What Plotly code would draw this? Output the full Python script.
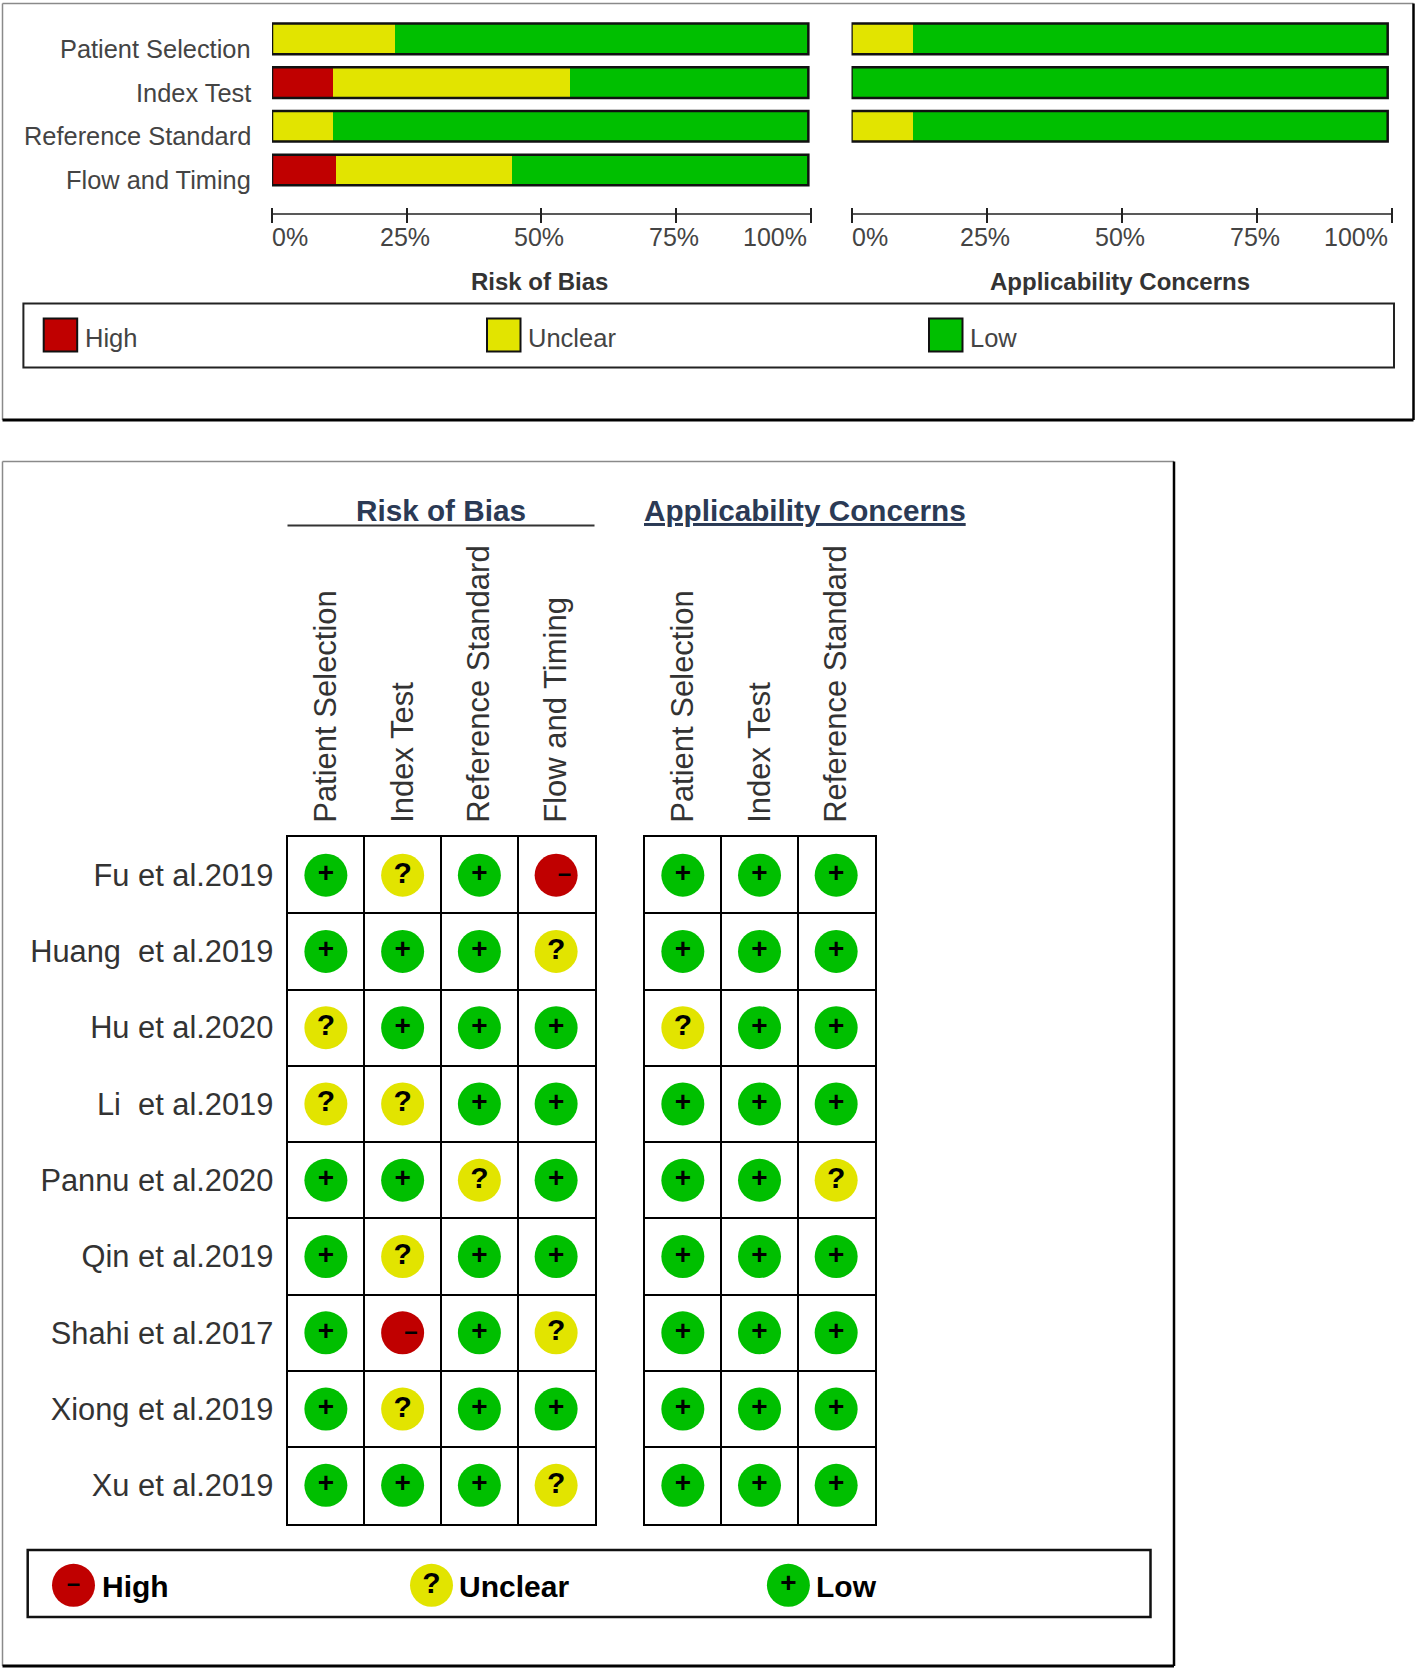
import plotly.graph_objects as go

W, H = 1418, 1670
FONT = "Liberation Sans"

RED = "#C00000"
YELLOW = "#E2E400"
GREEN = "#00BF00"

# Summary bars (percent of studies)
domains = ["Patient Selection", "Index Test", "Reference Standard", "Flow and Timing"]
bias_high = [0, 11.4, 0, 11.9]
bias_unclear = [22.8, 44, 11.4, 32.7]
bias_low = [76.8, 44.2, 88.2, 55]
appl_high = [0, 0, 0, None]
appl_unclear = [11.4, 0, 11.4, None]
appl_low = [87.8, 99.2, 87.8, None]
tick_vals = [0, 25, 50, 75, 100]
tick_text = ["0%", "25%", "50%", "75%", "100%"]

# Per-study judgements
studies = ["Fu et al.2019", "Huang  et al.2019", "Hu et al.2020", "Li  et al.2019", "Pannu et al.2020",
           "Qin et al.2019", "Shahi et al.2017", "Xiong et al.2019", "Xu et al.2019"]
bias_cols = ["Patient Selection", "Index Test", "Reference Standard", "Flow and Timing"]
appl_cols = ["Patient Selection", "Index Test", "Reference Standard"]
bias_marks = [
    ["+", "?", "+", "-"],
    ["+", "+", "+", "?"],
    ["?", "+", "+", "+"],
    ["?", "?", "+", "+"],
    ["+", "+", "?", "+"],
    ["+", "?", "+", "+"],
    ["+", "-", "+", "?"],
    ["+", "?", "+", "+"],
    ["+", "+", "+", "?"],
]
appl_marks = [
    ["+", "+", "+"],
    ["+", "+", "+"],
    ["?", "+", "+"],
    ["+", "+", "+"],
    ["+", "+", "?"],
    ["+", "+", "+"],
    ["+", "+", "+"],
    ["+", "+", "+"],
    ["+", "+", "+"],
]
levels = ["High", "Unclear", "Low"]
level_colors = [RED, YELLOW, GREEN]
level_marks = ["-", "?", "+"]
# the minus sits right of centre in the grid, so it gets leading spaces
glyphs = {"-": "\u2002\u2009\u2013", "?": "?", "+": "+"}
glyph_sizes = {"-": 24, "?": 30, "+": 28}


def px_x(v):
    return v / W


def px_y(v):
    return 1 - v / H


def paper_line(x0, y0, x1, y1, color="black", width=2):
    return dict(type="line", xref="paper", yref="paper", x0=px_x(x0), x1=px_x(x1),
                y0=px_y(y0), y1=px_y(y1), line=dict(color=color, width=width))


def paper_rect(x0, y0, x1, y1, color="black", width=2, fill=None):
    return dict(type="rect", xref="paper", yref="paper", x0=px_x(x0), x1=px_x(x1),
                y0=px_y(y0), y1=px_y(y1), line=dict(color=color, width=width),
                fillcolor=fill if fill else "rgba(0,0,0,0)", layer="above")


def label(text, x, y, size, color="#444444", bold=False, anchor="left"):
    return dict(text=text, xref="paper", yref="paper", x=px_x(x), y=px_y(y), showarrow=False,
                xanchor=anchor, yanchor="middle",
                font=dict(family=FONT, size=size, color=color, weight="bold" if bold else "normal"))


def framed_box(x0, y0, x1, y1):
    # grey top/left edge with a heavy bottom/right edge
    return [
        paper_line(x0, y0, x1, y0, "#8a8a8a", 1.5),
        paper_line(x0, y0, x0, y1, "#8a8a8a", 1.5),
        paper_line(x0, y1, x1, y1, "black", 3),
        paper_line(x1, y0, x1, y1, "black", 2.5),
    ]


fig = go.Figure()
shapes = []
annotations = []

# Top panel: stacked summary bars
panels = [
    ("x", "y", "xaxis", "yaxis", (272, 810.5), [bias_high, bias_unclear, bias_low], "Risk of Bias"),
    ("x2", "y2", "xaxis2", "yaxis2", (851.5, 1392), [appl_high, appl_unclear, appl_low], "Applicability Concerns"),
]
layout_axes = {}
for xa, ya, xkey, ykey, (left, right), series, title in panels:
    for vals, color, name in zip(series, level_colors, levels):
        fig.add_trace(go.Bar(x=vals, y=domains, orientation="h", name=name, xaxis=xa, yaxis=ya,
                             marker=dict(color=color, line=dict(width=0)), width=0.7))
    layout_axes[xkey] = dict(domain=[px_x(left), px_x(right)], range=[0, 100], anchor=ya,
                             tickvals=tick_vals, showticklabels=False, ticks="outside", ticklen=15,
                             tickwidth=1.5, tickcolor="#222222", showgrid=False, zeroline=False,
                             showline=False)
    layout_axes[ykey] = dict(domain=[px_y(207), px_y(10)], range=[3.846, -0.661], anchor=xa,
                             type="category", categoryorder="array", categoryarray=domains,
                             showticklabels=False, ticks="", showgrid=False, zeroline=False,
                             showline=False)
    # Outline round each whole bar, sized from the data
    for i in range(len(domains)):
        total = sum(v[i] or 0 for v in series)
        if total > 0:
            shapes.append(dict(type="rect", xref=xa, yref=ya, x0=0, x1=total, y0=i - 0.35, y1=i + 0.35,
                               line=dict(color="#111111", width=2.5), layer="above"))
    shapes.append(dict(type="line", xref=xa, yref="paper", x0=0, x1=100, y0=px_y(214), y1=px_y(214),
                       line=dict(color="#222222", width=1.5)))
    for val, text in zip(tick_vals, tick_text):
        anchor = "left" if val == 0 else "right" if val == 100 else "center"
        annotations.append(dict(text=text, xref=xa, yref="paper", x=val, y=px_y(236.5), showarrow=False,
                                xanchor=anchor, yanchor="middle", xshift=-2,
                                font=dict(family=FONT, size=25, color="#444444")))
    annotations.append(dict(text=title, xref=xa, yref="paper", x=50, y=px_y(281), showarrow=False,
                            xanchor="center", yanchor="middle", xshift=-2,
                            font=dict(family=FONT, size=24, color="#333333", weight="bold")))

for name in domains:
    annotations.append(dict(text=name, xref="paper", yref="y", x=px_x(253), y=name, yshift=-10,
                            showarrow=False, xanchor="right", yanchor="middle",
                            font=dict(family=FONT, size=25.4, color="#444444")))

# Top legend
shapes.append(paper_rect(23.4, 303.6, 1394, 367.6, "#222222", 2))
for name, color, sx, tx in zip(levels, level_colors, [43.7, 487, 929], [83, 526, 968]):
    shapes.append(paper_rect(sx, 318.5, sx + 33.5, 351.6, "#111111", 2, color))
    annotations.append(label(name, tx, 337.7, 25.5))

shapes += framed_box(2.5, 3.5, 1413.5, 420)

# Bottom panel: judgement grids
ROW_TOP, ROW_BOTTOM = 837, 1523.5
grids = [
    ("x3", "y3", "xaxis3", "yaxis3", (287.5, 594.5), bias_cols, bias_marks, True),
    ("x4", "y4", "xaxis4", "yaxis4", (644.5, 874.5), appl_cols, appl_marks, False),
]
for xa, ya, xkey, ykey, (left, right), cols, marks, show_rows in grids:
    for mark, color in zip(level_marks, level_colors):
        xs, ys = [], []
        for study, row in zip(studies, marks):
            for col, value in enumerate(row):
                if value == mark:
                    xs.append(col)
                    ys.append(study)
        fig.add_trace(go.Scatter(x=xs, y=ys, mode="markers+text", xaxis=xa, yaxis=ya,
                                 marker=dict(size=43, color=color, line=dict(width=0)),
                                 text=[glyphs[mark]] * len(xs), textposition="middle center",
                                 textfont=dict(family=FONT, size=glyph_sizes[mark], color="black", weight="bold"),
                                 hoverinfo="x+y"))
    layout_axes[xkey] = dict(domain=[px_x(left), px_x(right)], range=[-0.5, len(cols) - 0.5], anchor=ya,
                             side="top", tickmode="array", tickvals=list(range(len(cols))), ticktext=cols,
                             tickangle=-90, ticks="outside", ticklen=6, tickcolor="rgba(0,0,0,0)",
                             tickfont=dict(family=FONT, size=31, color="#333333"),
                             showgrid=False, zeroline=False, showline=True, mirror=True,
                             linecolor="black", linewidth=2,
                             minor=dict(tickvals=[c + 0.5 for c in range(len(cols) - 1)], showgrid=True,
                                        gridcolor="black", gridwidth=2, ticks=""))
    layout_axes[ykey] = dict(domain=[px_y(ROW_BOTTOM), px_y(ROW_TOP)], range=[len(studies) - 0.5, -0.5],
                             anchor=xa, type="category", categoryorder="array", categoryarray=studies,
                             showticklabels=show_rows, ticks="outside" if show_rows else "", ticklen=6,
                             tickcolor="rgba(0,0,0,0)", tickfont=dict(family=FONT, size=30.8, color="#333333"),
                             showgrid=False, zeroline=False, showline=True, mirror=True,
                             linecolor="black", linewidth=2,
                             minor=dict(tickvals=[r + 0.5 for r in range(len(studies) - 1)], showgrid=True,
                                        gridcolor="black", gridwidth=2, ticks=""))

# Grid headers
annotations.append(label("Risk of Bias", 441, 511, 29.7, "#2b3a55", True, "center"))
annotations.append(label("<u>Applicability Concerns</u>", 805.5, 511, 29.7, "#2b3a55", True, "center"))
shapes.append(paper_line(287.5, 525.5, 594.5, 525.5, "#333333", 2))

# Bottom legend, drawn with a small scatter on the paper-sized axes
shapes.append(paper_rect(27.7, 1550, 1150.5, 1617, "#111111", 2.5))
legend_x = [73.5, 431.5, 788.4]
text_x = [99.5, 457, 814]
for name, mark, color, cx, tx in zip(levels, level_marks, level_colors, legend_x, text_x):
    fig.add_trace(go.Scatter(x=[cx / W], y=[1 - 1585.3 / H], mode="markers+text", xaxis="x5", yaxis="y5",
                             marker=dict(size=43, color=color, line=dict(width=0)),
                             text=[glyphs[mark] if mark != "-" else "\u2013"], textposition="middle center",
                             textfont=dict(family=FONT, size=glyph_sizes[mark], color="black", weight="bold"),
                             hoverinfo="skip"))
    annotations.append(label(name, tx, 1586, 30, "black", True))
layout_axes["xaxis5"] = dict(domain=[0, 1], range=[0, 1], visible=False, anchor="y5", fixedrange=True)
layout_axes["yaxis5"] = dict(domain=[0, 1], range=[0, 1], visible=False, anchor="x5", fixedrange=True)

shapes += framed_box(2.5, 461.5, 1174, 1666)

fig.update_layout(
    width=W, height=H, autosize=False,
    margin=dict(l=0, r=0, t=0, b=0),
    paper_bgcolor="white", plot_bgcolor="rgba(0,0,0,0)",
    barmode="stack", showlegend=False,
    shapes=shapes, annotations=annotations,
    font=dict(family=FONT),
    **layout_axes,
)

fig.write_html("out.html", config=dict(displayModeBar=False),
               post_script="document.body.style.margin='0';")
